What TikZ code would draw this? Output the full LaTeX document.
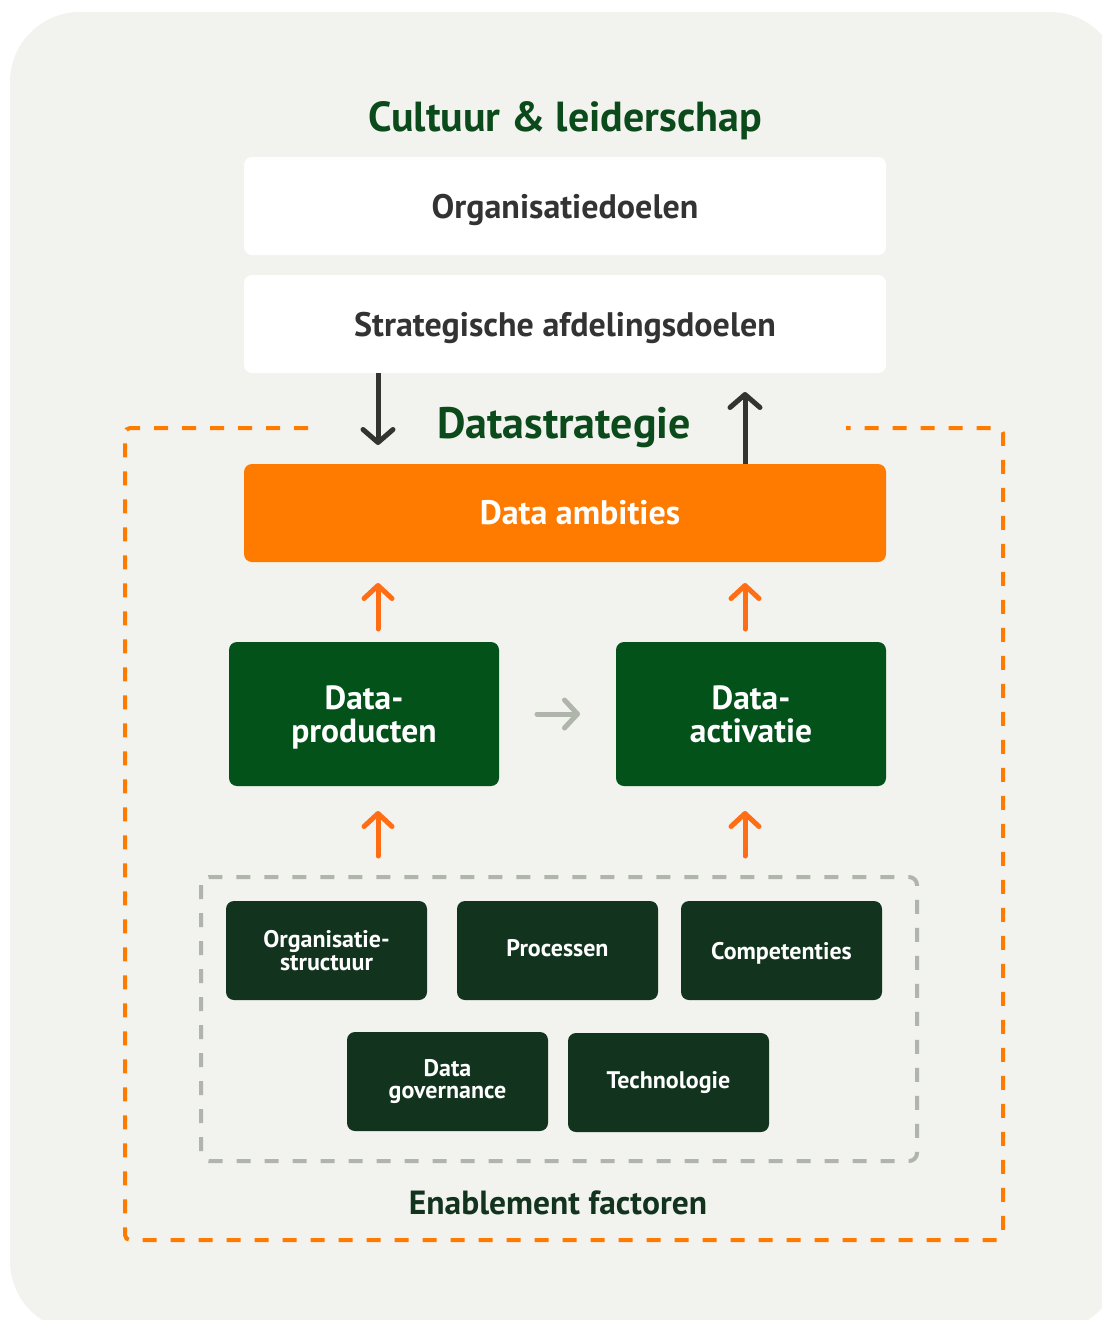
\documentclass[tikz,border=0pt]{standalone}
\usepackage{fontspec}
\setmainfont{PT Sans}
\usetikzlibrary{arrows.meta}
\definecolor{bgc}{HTML}{F2F2EE}
\definecolor{titlegreen}{HTML}{0B4B1B}
\definecolor{txtgrey}{HTML}{333333}
\definecolor{orng}{HTML}{FF7B00}
\definecolor{orngarrow}{HTML}{FF6E14}
\definecolor{boxgreen}{HTML}{03521A}
\definecolor{darkbox}{HTML}{12331E}
\definecolor{dashgrey}{HTML}{B0B5AB}
\definecolor{darkarrow}{HTML}{333330}
\newcommand{\shiftdown}[2]{\raisebox{-#1}[\height][\depth]{#2}}
\tikzset{
  whitebox/.style={fill=white, rounded corners=8pt, minimum width=642pt, minimum height=98pt, text=txtgrey, font=\bfseries\fontsize{34}{40}\selectfont},
  orangebox/.style={fill=orng, rounded corners=8pt, minimum width=642pt, minimum height=98pt, text=white, font=\bfseries\fontsize{34}{40}\selectfont},
  greenbox/.style={fill=boxgreen, rounded corners=8pt, minimum width=270pt, minimum height=144pt, text=white, align=center, font=\bfseries\fontsize{33.5}{32}\selectfont},
  enbox/.style={fill=darkbox, rounded corners=8pt, minimum width=201pt, minimum height=99pt, text=white, align=center, font=\bfseries\fontsize{24}{22.5}\selectfont},
  headtxt/.style={text=titlegreen, font=\bfseries\fontsize{42}{48}\selectfont},
  darkarr/.style={draw=darkarrow, line width=5pt, -{Straight Barb[length=13pt, width=30pt, line cap=round, line join=round]}},
  orarr/.style={draw=orngarrow, line width=5pt, line cap=round, -{Straight Barb[length=13pt, width=28pt, line cap=round, line join=round]}},
  greyarr/.style={draw=dashgrey, line width=5pt, line cap=round, -{Straight Barb[length=13pt, width=28pt, line cap=round, line join=round]}},
  orframe/.style={draw=orng, line width=4pt, dash pattern=on 14pt off 14pt, rounded corners=5pt},
  greyframe/.style={draw=dashgrey, line width=4pt, dash pattern=on 14pt off 14pt, rounded corners=8pt},
}
\begin{document}
\begin{tikzpicture}[x=1pt,y=-1pt]
\useasboundingbox (0,0) rectangle (1102,1320);
\fill[white] (0,0) rectangle (1102,1320);
\fill[bgc, rounded corners=70pt] (10,12) rectangle (1120,1331);

% frames
\draw[orframe] (308,428) -- (125,428) -- (125,1240) -- (1003,1240) -- (1003,428) -- (846,428);
\draw[greyframe] (201,877) rectangle (917,1161);

% headings
\node[headtxt] (cult) at (565,121) {Cultuur \& leiderschap};
\node[headtxt, font=\bfseries\fontsize{44}{48}\selectfont] (dstr) at (564,428) {Datastrategie};
\node[text=darkbox, font=\bfseries\fontsize{33.5}{36}\selectfont] (enab) at (558,1203) {Enablement factoren};

% top boxes
\node[whitebox] (org) at (565,206) {\shiftdown{4pt}{Organisatiedoelen}};
\node[whitebox] (strat) at (565,324) {\shiftdown{4pt}{Strategische afdelingsdoelen}};
\node[orangebox] (amb) at (565,513) {\hspace*{30pt}Data ambities};

% green boxes
\node[greenbox] (prod) at (364,714) {\shiftdown{5pt}{\begin{tabular}{@{}c@{}}Data-\\producten\end{tabular}}};
\node[greenbox] (act) at (751,714) {\shiftdown{5pt}{\begin{tabular}{@{}c@{}}Data-\\activatie\end{tabular}}};

% enablement boxes
\node[enbox] (os) at (326.5,950.5) {Organisatie-\\structuur};
\node[enbox] (proc) at (557.5,950.5) {\shiftdown{-2pt}{Processen}};
\node[enbox] (comp) at (781.5,950.5) {\shiftdown{3pt}{Competenties}};
\node[enbox] (gov) at (447.5,1081.5) {Data\\governance};
\node[enbox] (tech) at (668.5,1082.5) {Technologie};

% arrow coordinates
\coordinate (dtip) at (378,445);
\coordinate (utip) at (745,392);
\coordinate (o1s) at (378,629);
\coordinate (o1e) at (378,583);
\coordinate (o2s) at (745,629);
\coordinate (o2e) at (745,583);
\coordinate (o3s) at (378,856);
\coordinate (o3e) at (378,811);
\coordinate (o4s) at (745,856);
\coordinate (o4e) at (745,811);
\coordinate (gs) at (537,714);
\coordinate (ge) at (580,714);

\draw[darkarr] (dtip |- strat.south) -- (dtip);
\draw[darkarr] (utip |- amb.north) -- (utip);
\draw[orarr] (o1s) -- (o1e);
\draw[orarr] (o2s) -- (o2e);
\draw[orarr] (o3s) -- (o3e);
\draw[orarr] (o4s) -- (o4e);
\draw[greyarr] (gs) -- (ge);
\end{tikzpicture}
\end{document}
